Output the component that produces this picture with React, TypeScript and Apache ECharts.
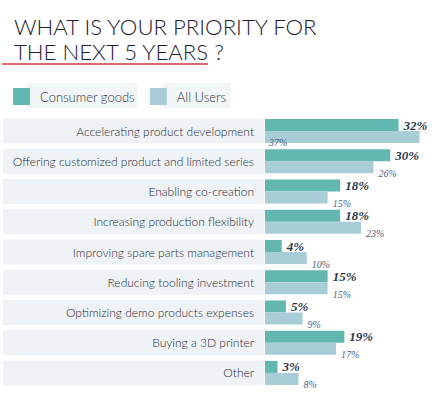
import React, { useEffect, useRef } from "react";
import * as echarts from "echarts";

const categories = [
  "Accelerating product development",
  "Offering customized product and limited series",
  "Enabling co-creation",
  "Increasing production flexibility",
  "Improving spare parts management",
  "Reducing tooling investment",
  "Optimizing demo products expenses",
  "Buying a 3D printer",
  "Other",
];
const consumerGoods = [32, 30, 18, 18, 4, 15, 5, 19, 3];
const allUsers = [37, 26, 15, 23, 10, 15, 9, 17, 8];
const seriesNames = ["Consumer goods", "All Users"];
const titleLines = ["WHAT IS YOUR PRIORITY FOR", "THE NEXT 5 YEARS ?"];

const FONT = "Lato, 'Noto Sans', sans-serif";
const SERIF = "'Liberation Serif', 'DejaVu Serif', serif";

export default function App() {
  const ref = useRef<HTMLDivElement>(null);
  useEffect(() => {
    if (!ref.current) return;
    const chart = echarts.init(ref.current, null, { renderer: "svg" });
    chart.setOption({
      animation: false,
      backgroundColor: "#ffffff",
      graphic: [
        {
          type: "text",
          left: 14,
          top: 14,
          style: {
            text: titleLines.join("\n"),
            font: `300 22.2px ${FONT}`,
            lineHeight: 25,
            fill: "#1e2030",
          },
        },
        {
          type: "line",
          shape: { x1: 2, y1: 64, x2: 208, y2: 64 },
          style: { stroke: "#c8393c", lineWidth: 1.3 },
        },
        {
          type: "rect",
          z: -1,
          shape: { x: 27, y: 83, width: 110, height: 25 },
          style: { fill: "#f3f6f7" },
        },
        {
          type: "rect",
          z: -1,
          shape: { x: 163, y: 83, width: 68, height: 25 },
          style: { fill: "#f3f6f7" },
        },
      ],
      legend: {
        left: 13,
        top: 88,
        icon: "rect",
        itemWidth: 17,
        itemHeight: 17,
        itemGap: 15,
        padding: 0,
        data: seriesNames,
        textStyle: {
          fontFamily: FONT,
          fontWeight: 300,
          fontSize: 13,
          color: "#2a3040",
          width: 95,
          padding: [0, 0, 0, 5],
        },
      },
      grid: { left: 263, width: 169, top: 116, height: 272, containLabel: false },
      xAxis: {
        type: "value",
        min: 0,
        max: 40,
        show: false,
      },
      yAxis: {
        type: "category",
        data: categories,
        inverse: true,
        axisLine: { show: false },
        axisTick: { show: false },
        axisLabel: {
          margin: 1,
          fontFamily: FONT,
          fontWeight: 300,
          fontSize: 12,
          color: "#262a38",
          align: "right",
          backgroundColor: "#eff3f5",
          width: 251,
          height: 25,
          lineHeight: 25,
          padding: [0, 10, 0, 0],
        },
      },
      series: [
        {
          name: seriesNames[0],
          type: "bar",
          data: consumerGoods,
          barWidth: 12,
          barGap: "0%",
          itemStyle: { color: "#63b7b1" },
          label: {
            show: true,
            position: "right",
            distance: 5,
            formatter: "{c}%",
            fontFamily: SERIF,
            fontStyle: "italic",
            fontWeight: "bold",
            fontSize: 13,
            color: "#2c3a4c",
          },
        },
        {
          name: seriesNames[1],
          type: "bar",
          data: allUsers.map((v, i) =>
            i === 0
              ? {
                  value: v,
                  label: { position: [4, 11], align: "left", verticalAlign: "middle", offset: [0, 0] },
                }
              : v
          ),
          barWidth: 12,
          itemStyle: { color: "#a9cdd7" },
          label: {
            show: true,
            position: "right",
            distance: 5,
            offset: [0, 6],
            formatter: "{c}%",
            fontFamily: SERIF,
            fontStyle: "italic",
            fontSize: 10,
            color: "#4f6281",
          },
        },
      ],
    });
    return () => chart.dispose();
  }, []);
  return <div ref={ref} style={{ width: 438, height: 395, position: "absolute", left: 0, top: 0 }} />;
}
